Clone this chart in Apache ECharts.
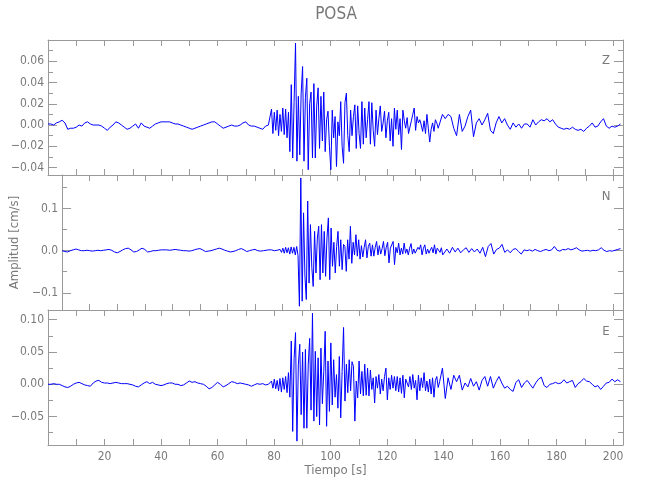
<!DOCTYPE html>
<html>
<head>
<meta charset="utf-8">
<title>POSA</title>
<script src="https://cdn.jsdelivr.net/npm/echarts@6/dist/echarts.min.js"></script>
<style>
  html, body { margin: 0; padding: 0; background: #fff; }
  #chart { width: 650px; height: 500px; }
</style>
</head>
<body>
<div id="chart"></div>
<script>
// amplitudes, in 1e-3 cm/s
// three stretches per trace: quiet (1 s), strong motion (0.5 s), coda (1 s)
const quietStart = 0
const quietStep = 1
const strongStart = 79.1
const strongStep = 0.5
const codaStart = 139.6
const codaStep = 1

const quietZ = [
  1, 1, 0, 2, 3, 4.5, 2, -4, -3, -3,
  -2, 0, -1, 2, 3, 1, 0, 0, 0, -1,
  -3, -5, -2, 0, 3, 2, 0, -2, -4, -3,
  -1, 1, -3, 2, -1, -2, -3, -1, 1, 2,
  3, 3, 3, 3, 2, 1, 1, 0, -1, -2,
  -3, -4, -3, -2, -1, 0, 1, 2, 3, 3,
  1, -1, -3, -2, -1, 0, -1, -1, 0, 2,
  3, 0, -1, -1, -2, -3, -4, -1, 0
]
const strongZ = [
  15, -8, 12, -5, 14, -10, 10, -6, 16, -9,
  15, -12, 12, -25, 38, -31, 22, 77, -34, 27,
  -28, 30, 55, -34, 26, 44, -42, 20, 31, -31,
  39, -31, 18, 35, -22, 27, -15, 31, -25, 5,
  13, -20, -42, 14, -12, 8, -39, 3, -10, 22,
  -20, -36, 21, 30, -10, -25, 14, -10, 8, 19,
  -22, 18, -8, -22, 22, -18, 16, -12, 5, 22,
  -18, 21, -5, -20, 14, -9, 6, 18, -6, 2,
  13, -12, 4, 12, -15, 6, -20, 16, -4, 14,
  -9, 6, -23, 14, 4, -3, 7, -8, -8, 4,
  10, 16, -5, 8, 2, 5, 0, -6, 4, -8,
  10, -3, -16, -4, 2, -6, 5, 2, -3, -4
]
const codaZ = [
  10, 6, 10, 8, -3, -10, 10, -6, -1, 8,
  14, -11, 2, 6, 0, 5, 11, -5, -8, 2,
  8, 2, 6, 0, -4, 2, -2, 1, -3, 1,
  1, -2, 5, 0, 3, 5, 4, 6, 3, 5,
  1, -2, -3, -4, -3, -4, -2, -4, -5, -4,
  -6, -3, -1, 2, -2, -1, 3, 6, -1, -3,
  -1, -2, -1, 1
]

const quietN = [
  0, -2, -3, 0, 2, 4, 2, 0, 0, 1,
  0, -1, 0, 1, 0, 1, 2, 3, 1, -3,
  -5, -2, 2, 5, 6, 2, -3, -2, 2, 6,
  3, -3, -2, 0, 0, 1, 2, 2, 2, 1,
  2, 3, 2, 1, 0, 0, -1, 0, 2, 4,
  5, 2, -2, -1, 0, 2, 4, 6, 4, 1,
  -1, -3, -2, 0, 3, 5, 2, -2, 0, 2,
  3, 0, -1, 0, 1, 2, 2, 0, 1
]
const strongN = [
  3, -4, 6, -6, 8, -5, 7, -8, 9, -6,
  8, -10, 10, -12, -132, 173, -120, 90, -60, -116,
  118, -77, 62, -40, -85, 46, -53, 30, 58, -69,
  62, -53, 46, -61, 30, 78, -69, 54, -37, 20,
  -53, 10, 46, -37, 26, -45, 15, 10, -49, 26,
  -20, 58, -30, 20, -10, 38, -13, 26, -20, 12,
  -15, 8, 26, -17, 10, 18, -13, 14, -13, 8,
  22, -10, 12, -8, 5, 22, -12, 8, 20, -29,
  6, 10, 22, -33, 8, -5, 18, -10, 6, -8,
  18, -6, 4, -10, 6, 17, -8, 4, -6, -9,
  8, 3, 14, -10, 6, 14, -8, 4, -6, 2,
  8, -5, 14, -8, 6, 10, -4, 7, -10, -6
]
const codaN = [
  4, -6, 8, -3, 6, -5, 2, 7, -4, 5,
  -3, 4, -6, 8, -14, 10, 17, -8, 3, 6,
  15, -4, 2, -5, 3, 5, -2, -8, 2, 0,
  2, -1, 3, 0, -2, 1, 3, 0, 2, 10,
  1, -1, 3, 2, 5, 2, 4, 7, 2, -1,
  0, 1, -1, 1, 0, 2, 7, 1, -2, 0,
  -1, 1, 3, 5
]

const quietE = [
  0, 0, 1, 0, 0, -2, -4, -5, -3, 0,
  2, 3, 1, -1, -2, -3, 2, 5, 6, 3,
  2, 2, 1, 2, 3, 2, 1, 1, 1, 0,
  -1, -3, -4, -1, 2, 4, 1, 3, 0, -1,
  -2, -1, 1, 2, 2, 0, 0, -2, -1, 2,
  5, 3, 4, 2, 1, 0, -3, -7, -5, -1,
  3, 0, -4, -2, 1, 4, 3, 1, 2, 1,
  0, -1, -3, -1, 1, 0, 1, -1, 0
]
const strongE = [
  5, -6, 8, -7, 6, -10, 9, -12, 10, -8,
  12, -13, 18, -20, 67, -73, 40, 80, -88, 30,
  62, -47, 50, -68, 54, -68, 30, 71, -40, 110,
  -57, 51, -50, 41, -63, 56, -30, 20, 82, -65,
  36, -42, 64, -32, 38, -20, 15, -37, 43, -52,
  20, 88, -26, 31, -13, 38, -10, 35, 28, -57,
  5, -21, 36, -15, 20, -18, 31, -17, 25, -18,
  22, -8, 10, -29, 12, -6, 15, -15, 8, -10,
  12, 25, -24, 10, -8, 14, -6, 12, -10, 12,
  -12, 10, -14, 14, -21, 8, 10, -4, 12, -8,
  15, -6, 6, -24, 14, -10, 10, -5, 18, -10,
  5, -12, 8, -15, 10, -20, 6, 12, -5, 4
]
const codaE = [
  25, -22, 10, -8, 14, 4, 14, -9, 2, -4,
  9, -3, 4, -9, 6, 12, -3, 12, -6, 4,
  12, 2, -6, -3, -8, -11, 3, 7, -5, 2,
  6, 0, -6, 2, 8, 11, -2, -5, 0, 1,
  3, 1, 2, 7, 2, 4, 6, -5, 1, 4,
  9, 5, 4, 0, -4, -2, -8, -3, 2, 3,
  8, 4, 7, 4
]

const components = ['Z', 'N', 'E']
const timeRange = [0, 203.5]
const timeLabelStep = 20
const timeTickStep = 10

function buildTrace(quiet, strong, coda) {
  const pts = []
  quiet.forEach((v, i) => pts.push([quietStart + i * quietStep, v / 1000]))
  strong.forEach((v, i) => pts.push([strongStart + i * strongStep, v / 1000]))
  coda.forEach((v, i) => pts.push([codaStart + i * codaStep, v / 1000]))
  return pts
}

const panels = [
  { data: buildTrace(quietZ, strongZ, codaZ), min: -0.047, max: 0.08, major: 0.02, minor: 0.01, digits: 2 },
  { data: buildTrace(quietN, strongN, codaN), min: -0.141, max: 0.18, major: 0.1, minor: 0.05, digits: 1 },
  { data: buildTrace(quietE, strongE, codaE), min: -0.094, max: 0.115, major: 0.05, minor: 0.025, digits: 2 }
]

const font = "'Liberation Sans Narrow', 'DejaVu Sans Condensed', 'Liberation Sans', sans-serif"
const frameColor = '#9a9a9a'
const textColor = '#7a7a7a'
const gridTops = [40, 175, 310]

const fmtValue = (digits) => (v) => {
  const s = v.toFixed(digits)
  return s.charAt(0) === '-' ? '\u2212' + s.slice(1) : s
}

const xAxes = []
const yAxes = []
const series = []

panels.forEach((p, i) => {
  ;['bottom', 'top'].forEach((pos) => {
    const labelled = i === 2 && pos === 'bottom'
    xAxes.push({
      type: 'value',
      gridIndex: i,
      position: pos,
      min: timeRange[0],
      max: timeRange[1],
      interval: timeTickStep,
      axisLine: { onZero: false, lineStyle: { color: frameColor, width: 1 } },
      axisTick: { inside: true, length: 6, lineStyle: { color: frameColor } },
      axisLabel: {
        show: labelled,
        margin: 6,
        color: textColor,
        fontSize: 12,
        fontFamily: font,
        showMinLabel: false,
        showMaxLabel: false,
        formatter: (v) => (Math.round(v) % timeLabelStep === 0 ? String(Math.round(v)) : '')
      },
      splitLine: { show: false },
      name: labelled ? 'Tiempo [s]' : '',
      nameLocation: 'middle',
      nameGap: 18,
      nameTextStyle: { color: textColor, fontSize: 13, fontFamily: font }
    })
  })

  ;['left', 'right'].forEach((pos) => {
    ;[p.major, p.minor].forEach((step, k) => {
      const isMajor = k === 0
      const labelled = isMajor && pos === 'left'
      yAxes.push({
        type: 'value',
        gridIndex: i,
        position: pos,
        min: p.min,
        max: p.max,
        minInterval: step,
        maxInterval: step,
        axisLine: { show: isMajor, onZero: false, lineStyle: { color: frameColor, width: 1 } },
        axisTick: { inside: true, length: isMajor ? 9 : 5, lineStyle: { color: frameColor } },
        axisLabel: {
          show: labelled,
          margin: 4,
          color: textColor,
          fontSize: 12,
          fontFamily: font,
          showMinLabel: false,
          showMaxLabel: false,
          formatter: fmtValue(p.digits)
        },
        splitLine: { show: false },
        name: labelled && i === 1 ? 'Amplitud [cm/s]' : '',
        nameLocation: 'middle',
        nameGap: 36,
        nameTextStyle: { color: textColor, fontSize: 13, fontFamily: font }
      })
    })
  })

  series.push({
    name: components[i],
    type: 'line',
    xAxisIndex: i * 2,
    yAxisIndex: i * 4,
    data: p.data,
    symbol: 'none',
    showSymbol: false,
    clip: true,
    silent: true,
    lineStyle: { color: '#0000ff', width: 1 }
  })
})

const chart = echarts.init(document.getElementById('chart'))
chart.setOption({
  backgroundColor: '#ffffff',
  animation: false,
  grid: gridTops.map((top) => ({ left: 48, width: 575, top: top, height: 135 })),
  xAxis: xAxes,
  yAxis: yAxes,
  series: series,
  graphic: [
    {
      type: 'text',
      x: 336,
      y: 15,
      style: { text: 'POSA', fill: '#777777', fontSize: 17, fontFamily: font, textAlign: 'center', textVerticalAlign: 'middle' }
    }
  ].concat(components.map((c, i) => ({
    type: 'text',
    x: 606,
    y: [61, 196.5, 331.5][i],
    style: { text: c, fill: textColor, fontSize: 13, fontFamily: font, textAlign: 'center', textVerticalAlign: 'middle' }
  })))
})
</script>
</body>
</html>
